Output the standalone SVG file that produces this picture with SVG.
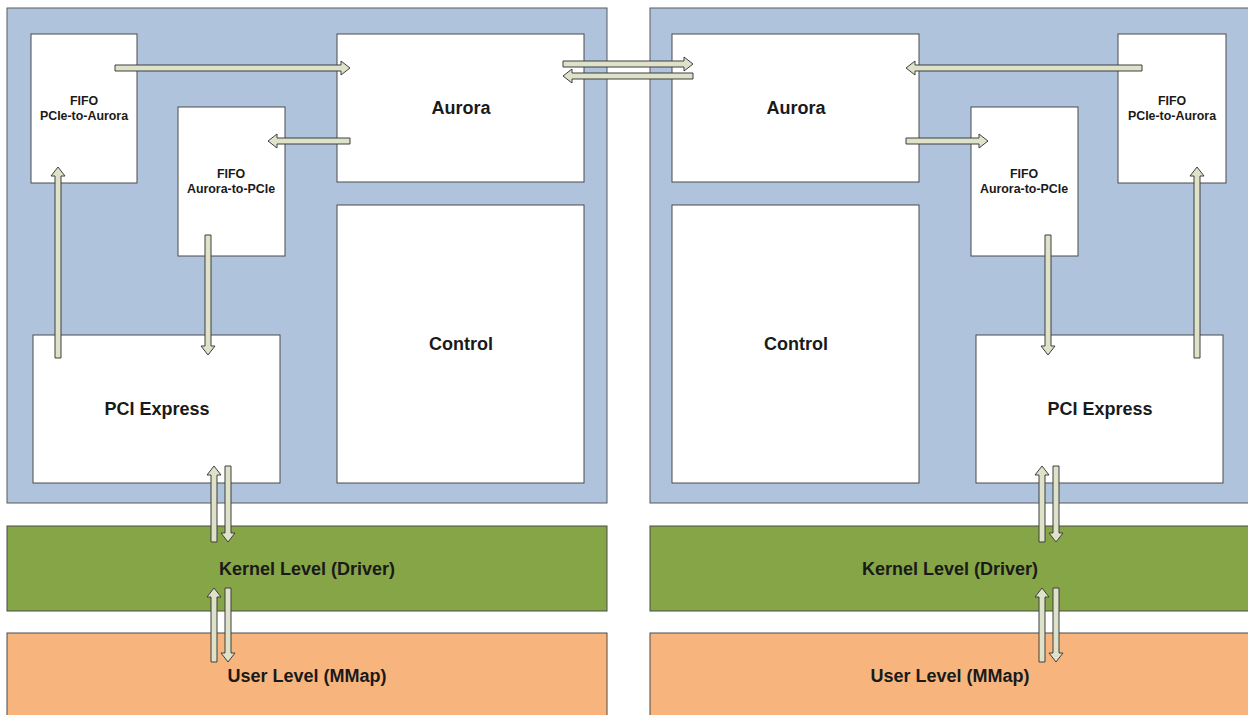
<svg xmlns="http://www.w3.org/2000/svg" width="1248" height="715" viewBox="0 0 1248 715">
  <style>
    .panel { fill: #b0c3dc; stroke: #5a5a5a; stroke-width: 1; }
    .box { fill: #ffffff; stroke: #4a4a4a; stroke-width: 1; }
    .kernel { fill: #86a546; stroke: #4a4a4a; stroke-width: 1; }
    .user { fill: #f7b57d; stroke: #4a4a4a; stroke-width: 1; }
    .ba { fill: #dde2c9; stroke: #3f3f3f; stroke-width: 1; stroke-linejoin: miter; }
    .big { font-family: "Liberation Sans", Arial, sans-serif; font-weight: bold; font-size: 18px; fill: #1a1a1a; text-anchor: middle; }
    .small { font-family: "Liberation Sans", Arial, sans-serif; font-weight: bold; font-size: 12.4px; fill: #1a1a1a; text-anchor: middle; }
  </style>
  <rect width="1248" height="715" fill="#ffffff"/>

  <!-- FPGA board A -->
  <g id="boardA">
    <rect class="panel" x="7" y="8" width="600" height="495"/>
  </g>
  <g id="fifoP2A-A">
    <rect class="box" x="31" y="34" width="106" height="149"/>
    <text class="small" x="84" y="105">FIFO</text>
    <text class="small" x="84" y="120">PCIe-to-Aurora</text>
  </g>
  <g id="fifoA2P-A">
    <rect class="box" x="178" y="107" width="107" height="149"/>
    <text class="small" x="231" y="178">FIFO</text>
    <text class="small" x="231" y="193">Aurora-to-PCIe</text>
  </g>
  <g id="aurora-A">
    <rect class="box" x="337" y="34" width="247" height="148"/>
    <text class="big" x="461" y="114">Aurora</text>
  </g>
  <g id="control-A">
    <rect class="box" x="337" y="205" width="247" height="278"/>
    <text class="big" x="461" y="350">Control</text>
  </g>
  <g id="pcie-A">
    <rect class="box" x="33" y="335" width="247" height="148"/>
    <text class="big" x="157" y="415">PCI Express</text>
  </g>
  <g id="kernel-A">
    <rect class="kernel" x="7" y="526" width="600" height="85"/>
    <text class="big" x="307" y="575">Kernel Level (Driver)</text>
  </g>
  <g id="user-A">
    <rect class="user" x="7" y="633" width="600" height="90"/>
    <text class="big" x="307" y="682">User Level (MMap)</text>
  </g>

  <!-- FPGA board B -->
  <g id="boardB">
    <rect class="panel" x="650" y="8" width="610" height="495"/>
  </g>
  <g id="aurora-B">
    <rect class="box" x="672" y="34" width="247" height="148"/>
    <text class="big" x="796" y="114">Aurora</text>
  </g>
  <g id="control-B">
    <rect class="box" x="672" y="205" width="247" height="278"/>
    <text class="big" x="796" y="350">Control</text>
  </g>
  <g id="fifoA2P-B">
    <rect class="box" x="971" y="107" width="107" height="149"/>
    <text class="small" x="1024" y="178">FIFO</text>
    <text class="small" x="1024" y="193">Aurora-to-PCIe</text>
  </g>
  <g id="fifoP2A-B">
    <rect class="box" x="1118" y="34" width="108" height="149"/>
    <text class="small" x="1172" y="105">FIFO</text>
    <text class="small" x="1172" y="120">PCIe-to-Aurora</text>
  </g>
  <g id="pcie-B">
    <rect class="box" x="976" y="335" width="247" height="148"/>
    <text class="big" x="1100" y="415">PCI Express</text>
  </g>
  <g id="kernel-B">
    <rect class="kernel" x="650" y="526" width="610" height="85"/>
    <text class="big" x="950" y="575">Kernel Level (Driver)</text>
  </g>
  <g id="user-B">
    <rect class="user" x="650" y="633" width="610" height="90"/>
    <text class="big" x="950" y="682">User Level (MMap)</text>
  </g>

  <!-- block arrows -->
  <g id="connectors">
    <!-- board A internal -->
    <polygon class="ba" points="115,65 341,65 341,61 350,68 341,75 341,71 115,71"/>
    <polygon class="ba" points="350,138 277,138 277,134 268,141 277,148 277,144 350,144"/>
    <polygon class="ba" points="205,235 211,235 211,346 215,346 208,355 201,346 205,346"/>
    <polygon class="ba" points="55,358 55,176 51,176 58,167 65,176 61,176 61,358"/>
    <!-- board A to driver -->
    <polygon class="ba" points="211,542 211,475 207,475 214,466 221,475 217,475 217,542"/>
    <polygon class="ba" points="225,466 231,466 231,533 235,533 228,542 221,533 225,533"/>
    <!-- driver to user A -->
    <polygon class="ba" points="211,662 211,597 207,597 214,588 221,597 217,597 217,662"/>
    <polygon class="ba" points="225,588 231,588 231,653 235,653 228,662 221,653 225,653"/>
    <!-- Aurora link between boards -->
    <polygon class="ba" points="563,61 684,61 684,57 693,64 684,71 684,67 563,67"/>
    <polygon class="ba" points="693,73 572,73 572,69 563,76 572,83 572,79 693,79"/>
    <!-- board B internal -->
    <polygon class="ba" points="1142,65 915,65 915,61 906,68 915,75 915,71 1142,71"/>
    <polygon class="ba" points="906,138 979,138 979,134 988,141 979,148 979,144 906,144"/>
    <polygon class="ba" points="1045,235 1051,235 1051,346 1055,346 1048,355 1041,346 1045,346"/>
    <polygon class="ba" points="1194,358 1194,176 1190,176 1197,167 1204,176 1200,176 1200,358"/>
    <!-- board B to driver -->
    <polygon class="ba" points="1039,542 1039,475 1035,475 1042,466 1049,475 1045,475 1045,542"/>
    <polygon class="ba" points="1053,466 1059,466 1059,533 1063,533 1056,542 1049,533 1053,533"/>
    <!-- driver to user B -->
    <polygon class="ba" points="1039,662 1039,597 1035,597 1042,588 1049,597 1045,597 1045,662"/>
    <polygon class="ba" points="1053,588 1059,588 1059,653 1063,653 1056,662 1049,653 1053,653"/>
  </g>
</svg>
